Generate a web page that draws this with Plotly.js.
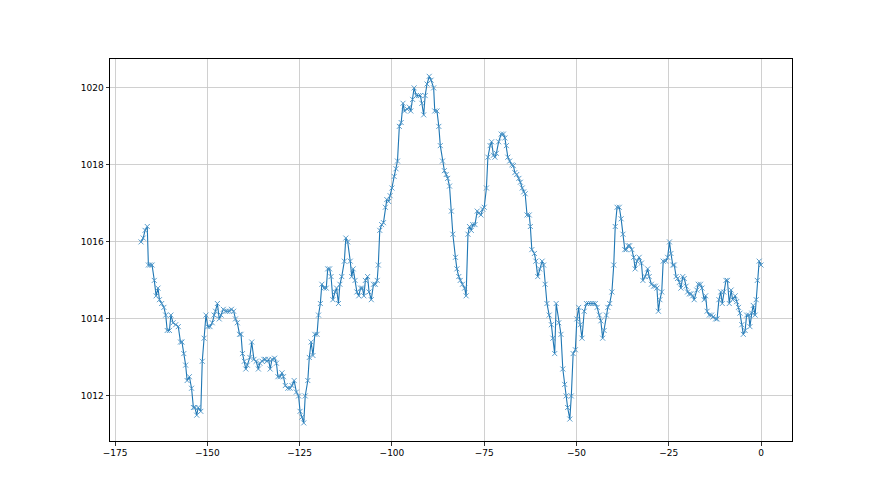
<!DOCTYPE html>
<html>
<head>
<meta charset="utf-8">
<script src="https://cdn.plot.ly/plotly-3.0.1.min.js"></script>
<style>html,body{margin:0;padding:0;background:#fff;}#chart{width:880px;height:495px;}</style>
</head>
<body>
<div id="chart"></div>
<script>
// Hours relative to now, and pressure readings (hPa)
const hours = [
-168.0,-167.4,-166.9,-166.3,-166.0,-165.5,-165.0,-164.4,-163.9,-163.4,-163.0,-162.4,-161.8,-161.3,-160.9,-160.3,-159.9,-159.3,-158.6,-157.9,
-157.3,-156.9,-156.4,-155.9,-155.5,-154.9,-154.3,-153.8,-153.4,-152.9,-152.5,-151.8,-151.4,-150.9,-150.4,-149.9,-149.3,-148.7,-148.2,-147.8,
-147.3,-146.8,-146.3,-145.7,-145.1,-144.6,-144.0,-143.5,-142.9,-142.4,-141.9,-141.3,-140.9,-140.5,-140.0,-139.6,-139.2,-138.5,-138.0,-137.4,
-136.8,-136.2,-135.8,-135.2,-134.7,-134.3,-133.9,-133.4,-133.0,-132.5,-131.8,-131.3,-130.9,-130.3,-129.8,-129.4,-128.9,-128.2,-127.6,-127.1,
-126.5,-125.9,-125.3,-124.9,-124.4,-123.9,-123.5,-122.8,-122.4,-121.9,-121.4,-120.9,-120.3,-119.9,-119.4,-119.0,-118.4,-117.8,-117.4,-116.9,
-116.5,-116.0,-115.4,-115.0,-114.5,-114.1,-113.6,-112.9,-112.5,-112.0,-111.3,-110.9,-110.5,-110.0,-109.5,-109.0,-108.5,-108.0,-107.6,-107.2,
-106.6,-106.2,-105.6,-105.0,-104.5,-104.0,-103.7,-103.3,-102.8,-102.3,-101.8,-101.4,-100.9,-100.5,-100.0,-99.4,-98.9,-98.5,-98.0,-97.5,
-97.0,-96.6,-95.9,-95.3,-94.9,-94.4,-94.0,-93.4,-92.8,-92.3,-91.9,-91.4,-91.0,-90.5,-89.9,-89.4,-88.7,-88.4,-87.8,-87.3,
-86.9,-86.3,-85.8,-85.3,-84.9,-84.4,-83.9,-83.5,-82.8,-82.4,-81.9,-81.5,-80.9,-80.3,-79.9,-79.4,-79.0,-78.5,-78.1,-77.5,
-76.9,-76.4,-75.9,-75.4,-75.0,-74.4,-74.0,-73.4,-73.0,-72.5,-72.1,-71.7,-71.1,-70.4,-69.8,-69.4,-69.0,-68.6,-68.1,-67.5,
-67.1,-66.7,-66.2,-65.6,-65.2,-64.7,-64.3,-63.9,-63.4,-62.8,-62.5,-62.1,-61.4,-61.0,-60.5,-60.0,-59.3,-58.9,-58.5,-58.0,
-57.4,-56.8,-56.4,-55.9,-55.5,-54.8,-54.2,-53.7,-53.2,-52.8,-52.4,-51.8,-51.4,-50.9,-50.3,-49.9,-49.4,-49.0,-48.5,-47.9,
-47.3,-46.7,-46.1,-45.5,-44.9,-44.4,-43.8,-43.4,-42.9,-42.5,-41.9,-41.5,-41.0,-40.4,-39.9,-39.5,-39.0,-38.4,-37.9,-37.4,
-36.9,-36.5,-36.0,-35.6,-35.0,-34.5,-34.1,-33.6,-33.0,-32.4,-32.0,-31.4,-30.7,-30.3,-29.7,-29.1,-28.6,-28.2,-27.8,-27.4,
-26.9,-26.5,-25.8,-25.3,-24.8,-24.4,-23.9,-23.5,-23.0,-22.6,-22.1,-21.7,-21.2,-20.8,-20.3,-19.9,-19.4,-19.0,-18.5,-18.1,
-17.4,-17.0,-16.4,-16.0,-15.4,-15.0,-14.6,-14.0,-13.4,-13.0,-12.3,-11.9,-11.4,-10.9,-10.5,-10.1,-9.5,-9.1,-8.6,-8.1,
-7.7,-7.0,-6.6,-6.1,-5.7,-5.2,-4.8,-4.3,-3.9,-3.3,-3.0,-2.5,-2.1,-1.6,-1.3,-1.0,-0.5,0.0
];
const pressure = [
1016.0,1016.1,1016.3,1016.4,1015.4,1015.4,1015.4,1015.0,1014.6,1014.8,1014.5,1014.4,1014.3,1014.1,1013.7,1013.7,1014.1,1013.9,1013.85,1013.8,
1013.4,1013.4,1013.1,1012.8,1012.4,1012.5,1012.2,1011.7,1011.7,1011.5,1011.7,1011.6,1012.9,1013.5,1014.1,1013.8,1013.8,1013.9,1014.1,1014.2,
1014.4,1014.0,1014.1,1014.25,1014.2,1014.2,1014.2,1014.25,1014.2,1014.0,1013.9,1013.6,1013.6,1013.1,1012.9,1012.7,1012.8,1013.0,1013.4,1012.95,
1012.9,1012.7,1012.85,1012.9,1012.95,1012.95,1012.9,1012.95,1012.7,1012.95,1012.98,1012.85,1012.5,1012.5,1012.6,1012.5,1012.27,1012.2,1012.2,1012.27,
1012.4,1012.1,1012.0,1011.6,1011.45,1011.3,1012.0,1012.4,1013.0,1013.4,1013.05,1013.6,1013.6,1014.1,1014.4,1014.9,1014.8,1014.8,1015.3,1015.3,
1015.1,1014.5,1014.7,1014.8,1014.4,1014.9,1015.1,1015.5,1016.1,1016.0,1015.5,1015.1,1015.3,1015.0,1014.7,1014.6,1014.8,1014.8,1014.6,1015.0,
1015.1,1014.7,1014.5,1014.9,1014.9,1015.0,1015.4,1016.3,1016.45,1016.5,1016.9,1017.1,1017.05,1017.2,1017.4,1017.7,1017.9,1018.1,1019.0,1019.1,
1019.6,1019.4,1019.45,1019.5,1019.4,1019.7,1020.0,1019.8,1019.8,1019.8,1019.6,1019.3,1019.8,1020.1,1020.3,1020.2,1020.0,1019.4,1019.4,1019.0,
1018.5,1018.1,1017.85,1017.75,1017.65,1017.45,1016.8,1016.2,1015.6,1015.3,1015.1,1015.0,1014.9,1014.8,1014.6,1016.2,1016.4,1016.3,1016.45,1016.45,
1016.8,1016.75,1016.7,1016.85,1016.9,1017.4,1018.2,1018.5,1018.6,1018.25,1018.2,1018.3,1018.6,1018.8,1018.8,1018.7,1018.5,1018.2,1018.1,1018.0,
1017.98,1017.8,1017.75,1017.65,1017.55,1017.4,1017.3,1017.25,1016.7,1016.7,1016.4,1015.8,1015.7,1015.5,1015.1,1015.3,1015.5,1015.4,1014.9,1014.4,
1014.1,1013.85,1013.5,1013.1,1014.4,1013.9,1013.6,1012.7,1012.3,1012.0,1011.7,1011.4,1012.0,1013.1,1013.2,1014.0,1014.3,1013.85,1013.5,1014.2,
1014.4,1014.4,1014.4,1014.4,1014.4,1014.3,1014.1,1013.95,1013.5,1013.7,1014.1,1014.3,1014.4,1014.7,1015.4,1016.4,1016.9,1016.9,1016.6,1016.2,
1015.8,1015.8,1015.9,1015.9,1015.8,1015.6,1015.3,1015.5,1015.6,1015.45,1015.0,1015.1,1015.3,1015.1,1014.9,1014.85,1014.85,1014.8,1014.2,1014.5,
1014.7,1015.5,1015.5,1015.6,1016.0,1015.7,1015.4,1015.4,1015.1,1015.05,1014.95,1014.8,1015.1,1015.05,1014.85,1014.7,1014.65,1014.65,1014.6,1014.5,
1014.75,1014.9,1014.9,1014.8,1014.5,1014.6,1014.2,1014.1,1014.1,1014.05,1014.0,1014.0,1014.5,1014.7,1014.4,1014.7,1015.0,1015.0,1014.4,1014.75,
1014.5,1014.6,1014.45,1014.3,1014.15,1013.85,1013.6,1013.7,1014.1,1014.1,1013.8,1014.15,1014.35,1014.1,1014.5,1015.0,1015.5,1015.4
];
const xTicks = [-175, -150, -125, -100, -75, -50, -25, 0];
const yTicks = [1012, 1014, 1016, 1018, 1020];

const trace = {
  x: hours,
  y: pressure,
  type: 'scatter',
  mode: 'lines+markers',
  line: {color: '#1f77b4', width: 1.1},
  marker: {symbol: 'x-thin-open', size: 5, color: '#4a93c6', line: {color: '#4a93c6', width: 0.9}},
  hoverinfo: 'x+y'
};

const axisCommon = {
  showline: true, mirror: true, linecolor: '#000', linewidth: 1,
  ticks: 'outside', ticklen: 3.5, tickwidth: 0.8, tickcolor: '#000',
  showgrid: true, gridcolor: '#c4c4c4', gridwidth: 0.8,
  zeroline: false,
  tickfont: {family: 'DejaVu Sans, sans-serif', size: 9, color: '#000'}
};

const layout = {
  width: 880, height: 495,
  margin: {l: 110, r: 88, t: 59, b: 54},
  paper_bgcolor: '#fff', plot_bgcolor: '#fff',
  showlegend: false,
  xaxis: Object.assign({}, axisCommon, {range: [-176.4, 8.4], tickmode: 'array', tickvals: xTicks, ticktext: xTicks.map(v => v < 0 ? '\u2212' + Math.abs(v) : String(v))}),
  yaxis: Object.assign({}, axisCommon, {range: [1010.83, 1020.75], tickmode: 'array', tickvals: yTicks, ticktext: yTicks.map(String)})
};

Plotly.newPlot('chart', [trace], layout, {displayModeBar: false, staticPlot: true});
</script>
</body>
</html>
